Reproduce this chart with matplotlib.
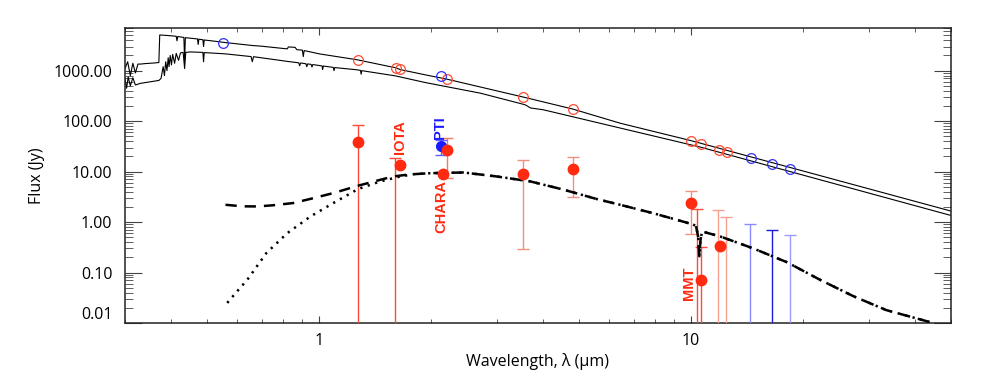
import matplotlib
matplotlib.use("Agg")
import matplotlib.pyplot as plt
from matplotlib import ticker


# stellar photosphere models (two curves), wavelength in micron, flux in Jy
star_hi_wave = [0.300, 0.305, 0.310, 0.315, 0.320, 0.325, 0.33, 0.34, 0.36, 0.370, 0.372,
                0.40, 0.412, 0.414, 0.416, 0.432, 0.434, 0.436, 0.47, 0.472, 0.474,
                0.486, 0.488, 0.490, 0.52, 0.559, 0.66, 0.70, 0.80, 0.82, 0.825, 0.86,
                0.87, 0.90, 0.905, 0.91, 1.0, 1.265, 1.55, 1.6, 1.65, 1.927, 2.2,
                3.54, 4.81, 6.44, 10.0, 50.0]
star_hi_flux = [1100, 1500, 800, 1400, 900, 1350, 1350, 1380, 1420, 1450, 5100,
                4900, 4800, 3900, 4750, 4550, 1600, 4500, 4250, 3300, 4200,
                4100, 3000, 4050, 3850, 3600, 3150, 3050, 2750, 2700, 2950, 2900,
                2600, 2550, 1900, 2500, 2150, 1640, 1200, 1150, 1050, 826, 680,
                299, 173, 91, 41, 1.65]

star_lo_wave = [0.300, 0.303, 0.306, 0.31, 0.315, 0.32, 0.33, 0.35, 0.37, 0.375, 0.38,
                0.383, 0.386, 0.389, 0.392, 0.394, 0.397, 0.40, 0.403, 0.408, 0.412,
                0.418, 0.423, 0.43, 0.434, 0.437, 0.45, 0.486, 0.488, 0.49, 0.559,
                0.655, 0.66, 0.665, 0.826, 0.88, 0.885, 0.89, 0.92, 0.925, 0.93, 0.95,
                0.955, 0.96, 1.017, 1.02, 1.025, 1.09, 1.095, 1.10, 1.265, 1.29, 1.295,
                1.30, 1.6, 1.927, 2.71, 3.5, 3.58, 3.7, 4.0, 6.44, 10.6, 50.0]
star_lo_flux = [700, 450, 750, 500, 720, 520, 560, 600, 640, 700, 1200,
                800, 1500, 1000, 1800, 1200, 2000, 1300, 2100, 1400, 2200,
                1600, 2250, 2300, 1100, 2300, 2350, 2300, 1500, 2280, 2150,
                1900, 1500, 1890, 1515, 1430, 1250, 1420, 1370, 1200, 1360, 1330,
                1180, 1320, 1240, 1050, 1235, 1160, 1000, 1150, 1038, 1010, 850,
                1000, 789, 581, 358, 220, 210, 182, 168, 73, 30.5, 1.35]

# disk models: near-IR parts differ, mid-IR parts coincide
dash_nir_wave = [0.559, 0.62, 0.68, 0.75, 0.85, 0.95, 1.09, 1.265, 1.45, 1.58, 1.75]
dash_nir_flux = [2.2, 2.05, 2.04, 2.15, 2.38, 2.9, 3.75, 5.2, 6.8, 8.0, 8.8]
dot_nir_wave = [0.565, 0.60, 0.64, 0.72, 0.819, 0.946, 1.09, 1.27, 1.46, 1.65, 1.80]
dot_nir_flux = [0.025, 0.042, 0.072, 0.243, 0.6, 1.29, 2.38, 4.5, 6.4, 8.0, 8.9]
disk_ir_wave = [1.99, 2.44, 3.0, 3.69, 4.53, 5.57, 6.44, 7.9, 9.7, 10.3, 10.45, 10.52,
                10.6, 10.7, 11.96, 14.7, 18.1, 22.2, 27.3, 33.5, 44.8, 50.0]
disk_ir_flux = [9.3, 9.6, 8.0, 6.4, 4.4, 2.86, 2.2, 1.5, 0.98, 0.85, 0.5, 0.21,
                0.45, 0.65, 0.52, 0.30, 0.16, 0.072, 0.034, 0.018, 0.010, 0.0072]

# photometry (open circles)
open_red_wave = [1.268, 1.61, 1.65, 2.2, 3.54, 4.81, 10.0, 10.6, 11.9, 12.5]
open_red_flux = [1636, 1120, 1100, 679, 299, 173, 41, 35, 27, 24.3]
open_blue_wave = [0.552, 2.125, 14.5, 16.5, 18.5]
open_blue_flux = [3600, 789, 18.2, 14.3, 11.2]

# excess measurements (filled)
excess_wave = [1.27, 1.65, 2.145, 2.2, 3.54, 4.81, 10.0, 10.6, 11.96]
excess_flux = [38.4, 13.5, 9.0, 27.0, 9.0, 11.4, 2.38, 0.07, 0.33]
pti_wave = [2.12]
pti_flux = [32.4]
pti_lo = [21.5]
pti_hi = [42.6]

# error bars (lower ends below the plot are limits)
err_wave = [1.27, 1.60, 2.2, 3.54, 4.81, 10.0, 10.4, 10.6, 11.84, 12.4, 14.4, 16.5, 18.5]
err_hi = [83.5, 19.0, 47.0, 17.1, 19.9, 4.15, 1.81, 0.32, 1.7, 1.26, 0.92, 0.71, 0.56]
err_lo = [0.001, 0.001, 7.3, 0.29, 3.2, 0.58, 0.001, 0.001, 0.001, 0.001, 0.001, 0.001, 0.001]
err_color = ["#ff4a38", "#ff4a38", "#f47a6c", "#f0907f", "#f0907f", "#f0907f", "#ff4a38",
             "#ff4a38", "#f8a090", "#f8a090", "#8a8aff", "#1a1ad8", "#9a9aff"]

# instrument labels
inst_names = ["IOTA", "PTI", "CHARA", "MMT"]
inst_wave = [1.65, 2.115, 2.13, 9.88]
inst_flux = [48.9, 75.4, 2.05, 0.061]
inst_color = ["#ff2a10", "#1a1aff", "#ff2a10", "#ff2a10"]

RED = "#ff2a10"
BLUE = "#1a1aff"

plt.rcParams["font.family"] = ["Open Sans", "DejaVu Sans"]

fig = plt.figure(figsize=(9.81, 3.82), dpi=100)
ax = fig.add_axes([125 / 981, 1 - 323 / 382, 826 / 981, 295 / 382])
ax.set_xscale("log")
ax.set_yscale("log")

ax.plot(star_hi_wave, star_hi_flux, color="black", lw=0.8)
ax.plot(star_lo_wave, star_lo_flux, color="black", lw=0.8)

ax.plot(open_red_wave, open_red_flux, "o", ms=7, mfc="none", mec="#ff4a30", mew=0.9)
ax.plot(open_blue_wave, open_blue_flux, "o", ms=7, mfc="none", mec="#3030ff", mew=0.9)

for w, hi, lo, c in zip(err_wave, err_hi, err_lo, err_color):
    ax.errorbar([w], [hi], yerr=[[hi - lo], [0]], fmt="none", ecolor=c,
                elinewidth=1.0, capsize=4, capthick=1.0, zorder=3)

ax.plot(dash_nir_wave + disk_ir_wave, dash_nir_flux + disk_ir_flux, color="black",
        lw=1.8, dashes=[4.5, 3.2], zorder=4)
ax.plot(dot_nir_wave + disk_ir_wave, dot_nir_flux + disk_ir_flux, color="black",
        lw=1.8, dashes=[0.9, 2.2], zorder=4)

ax.errorbar(pti_wave, pti_flux,
            yerr=[[pti_flux[0] - pti_lo[0]], [pti_hi[0] - pti_flux[0]]],
            fmt="o", ms=7, color=BLUE, ecolor="#6060ff", elinewidth=1.0,
            capsize=4, zorder=5)
ax.plot(excess_wave, excess_flux, "o", ms=7.5, color=RED, mec=RED, zorder=6)

for name, w, f, c in zip(inst_names, inst_wave, inst_flux, inst_color):
    ax.text(w, f, name, rotation=90, ha="center", va="center", color=c,
            fontsize=10.5, fontweight="bold",
            family=["Liberation Sans Narrow", "Liberation Sans", "DejaVu Sans"])

ax.set_xlim(0.3, 50)
ax.set_ylim(0.01, 7000)

ax.xaxis.set_major_locator(ticker.LogLocator(base=10))
ax.xaxis.set_minor_locator(ticker.LogLocator(base=10, subs=range(2, 10)))
ax.xaxis.set_major_formatter(ticker.FuncFormatter(lambda v, p: f"{v:g}"))
ax.xaxis.set_minor_formatter(ticker.NullFormatter())
ax.yaxis.set_major_locator(ticker.LogLocator(base=10))
ax.yaxis.set_minor_locator(ticker.LogLocator(base=10, subs=range(2, 10)))
ax.yaxis.set_major_formatter(ticker.FormatStrFormatter("%.2f"))
ax.yaxis.set_minor_formatter(ticker.NullFormatter())

ax.tick_params(which="both", direction="in", top=True, right=True, color="#444",
               labelsize=11.5)
ax.tick_params(axis="x", which="major", length=5, pad=7)
ax.tick_params(axis="x", which="minor", length=3)
ax.tick_params(axis="y", which="major", length=12, pad=9)
ax.tick_params(axis="y", which="minor", length=6)
for sp in ax.spines.values():
    sp.set_linewidth(1.1)
    sp.set_color("#222")

ax.set_xlabel("Wavelength, λ (μm)", fontsize=11.5, labelpad=3)
ax.set_ylabel("Flux (Jy)", fontsize=11.5, labelpad=6)

fig.canvas.draw()
for lab in ax.get_yticklabels():
    if lab.get_text() == "0.01":
        lab.set_verticalalignment("bottom")

fig.savefig("out.png", dpi=100)
